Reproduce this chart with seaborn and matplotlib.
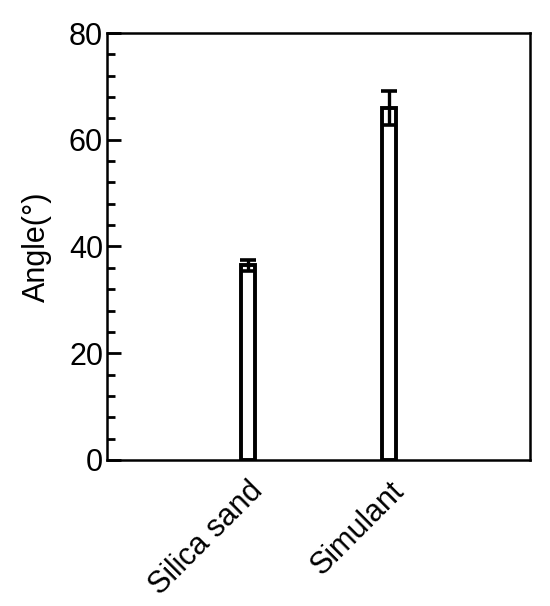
import seaborn as sns
import matplotlib.pyplot as plt
import pandas as pd
from matplotlib.ticker import MultipleLocator

sns.set_style("white")
plt.rcParams['font.family'] = ['Liberation Sans', 'DejaVu Sans']
plt.rcParams['text.color'] = 'black'
plt.rcParams['axes.labelcolor'] = 'black'
plt.rcParams['xtick.color'] = 'black'
plt.rcParams['ytick.color'] = 'black'

materials = ["Silica sand", "Simulant"]
angle = [36.5, 66.0]
angle_err = [1.0, 3.2]

df = pd.DataFrame({"material": materials, "angle": angle})

fig = plt.figure(figsize=(5.5, 6.06), dpi=100)
ax = fig.add_axes([0.195, 0.241, 0.769, 0.7045])

sns.barplot(x="material", y="angle", data=df, ax=ax, width=0.1,
            color="white", edgecolor="black", linewidth=2.8, errorbar=None)
ax.errorbar(range(len(materials)), angle, yerr=angle_err, fmt="none",
            ecolor="black", elinewidth=2.4, capsize=5.5, capthick=2.6)

ax.set_xlim(-1, 2)
ax.set_ylim(0, 80)
ax.yaxis.set_major_locator(MultipleLocator(20))
ax.yaxis.set_minor_locator(MultipleLocator(4))
ax.tick_params(axis="y", which="major", direction="in", length=10, width=2,
               labelsize=22, left=True, pad=3)
ax.tick_params(axis="y", which="minor", direction="in", length=6, width=2, left=True)
ax.tick_params(axis="x", bottom=False, labelsize=22, pad=8)
plt.setp(ax.get_xticklabels(), rotation=45, ha="right", rotation_mode="anchor")

for s in ax.spines.values():
    s.set_linewidth(1.8)
    s.set_color("black")

ax.set_xlabel("")
ax.set_ylabel("Angle(°)", fontsize=22, labelpad=12)

fig.savefig("out.png", dpi=100)
